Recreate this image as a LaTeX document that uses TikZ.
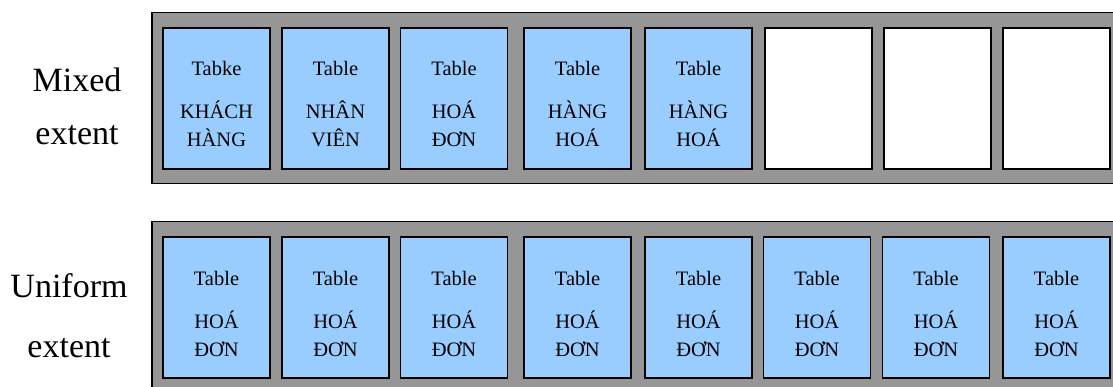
\documentclass[tikz,border=0pt]{standalone}
\usepackage{fontspec}
\setmainfont{Liberation Serif}
\definecolor{shelf}{RGB}{150,150,150}
\definecolor{tablefill}{RGB}{153,204,255}
\begin{document}
\begin{tikzpicture}[x=1pt,y=-1pt,
  extentbox/.style={draw=black, line width=1.5pt, fill=shelf, rectangle,
    inner sep=0pt, anchor=north west},
  page/.style={draw=black, line width=1.8pt, fill=tablefill, rectangle,
    minimum width=107pt, minimum height=141pt, inner sep=0pt},
  freepage/.style={page, fill=white},
  word/.style={font=\fontsize{20.5}{24}\selectfont, anchor=base, inner sep=0pt},
  rowlabel/.style={font=\fontsize{34}{40}\selectfont, anchor=base, inner sep=0pt}]
\useasboundingbox (0,0) rectangle (1113,387);
\clip (0,0) rectangle (1113,387);

% row labels
\node[rowlabel] (lm1) at (77,92)  {Mixed};
\node[rowlabel] (lm2) at (77,145) {extent};
\node[rowlabel] (lu1) at (69,297) {Uniform};
\node[rowlabel] (lu2) at (69,357) {extent};

% the two extents (eight pages each)
\node[extentbox, minimum width=969pt, minimum height=171pt] (mixed) at (151,12) {};
\node[extentbox, minimum width=969pt, minimum height=175pt] (uniform) at (151,221) {};

% pages of the mixed extent
\foreach \i/\cx/\t/\a/\b in {1/216.5/Tabke/KHÁCH/HÀNG,
                             2/335.5/Table/NHÂN/VIÊN,
                             3/454/Table/HOÁ/ĐƠN,
                             4/577.5/Table/HÀNG/HOÁ,
                             5/698.5/Table/HÀNG/HOÁ} {
  \node[page] (m\i) at (\cx,98.5) {};
  \node[word, yshift=22.5pt]  (m\i t) at (m\i.center) {\t};
  \node[word, yshift=-20.5pt] (m\i a) at (m\i.center) {\a};
  \node[word, yshift=-48.5pt] (m\i b) at (m\i.center) {\b};
}
\foreach \i/\cx in {6/818.5, 7/937.5, 8/1056.5} {
  \node[freepage] (m\i) at (\cx,98.5) {};
}

% pages of the uniform extent
\foreach \i/\cx in {1/216.5, 2/335.5, 3/454, 4/577.5, 5/698.5, 6/817, 7/936, 8/1056.5} {
  \node[page] (u\i) at (\cx,307.5) {};
  \node[word, yshift=22.5pt]  (u\i t) at (u\i.center) {Table};
  \node[word, yshift=-20.5pt] (u\i a) at (u\i.center) {HOÁ};
  \node[word, yshift=-48.5pt] (u\i b) at (u\i.center) {ĐƠN};
}
\end{tikzpicture}
\end{document}
